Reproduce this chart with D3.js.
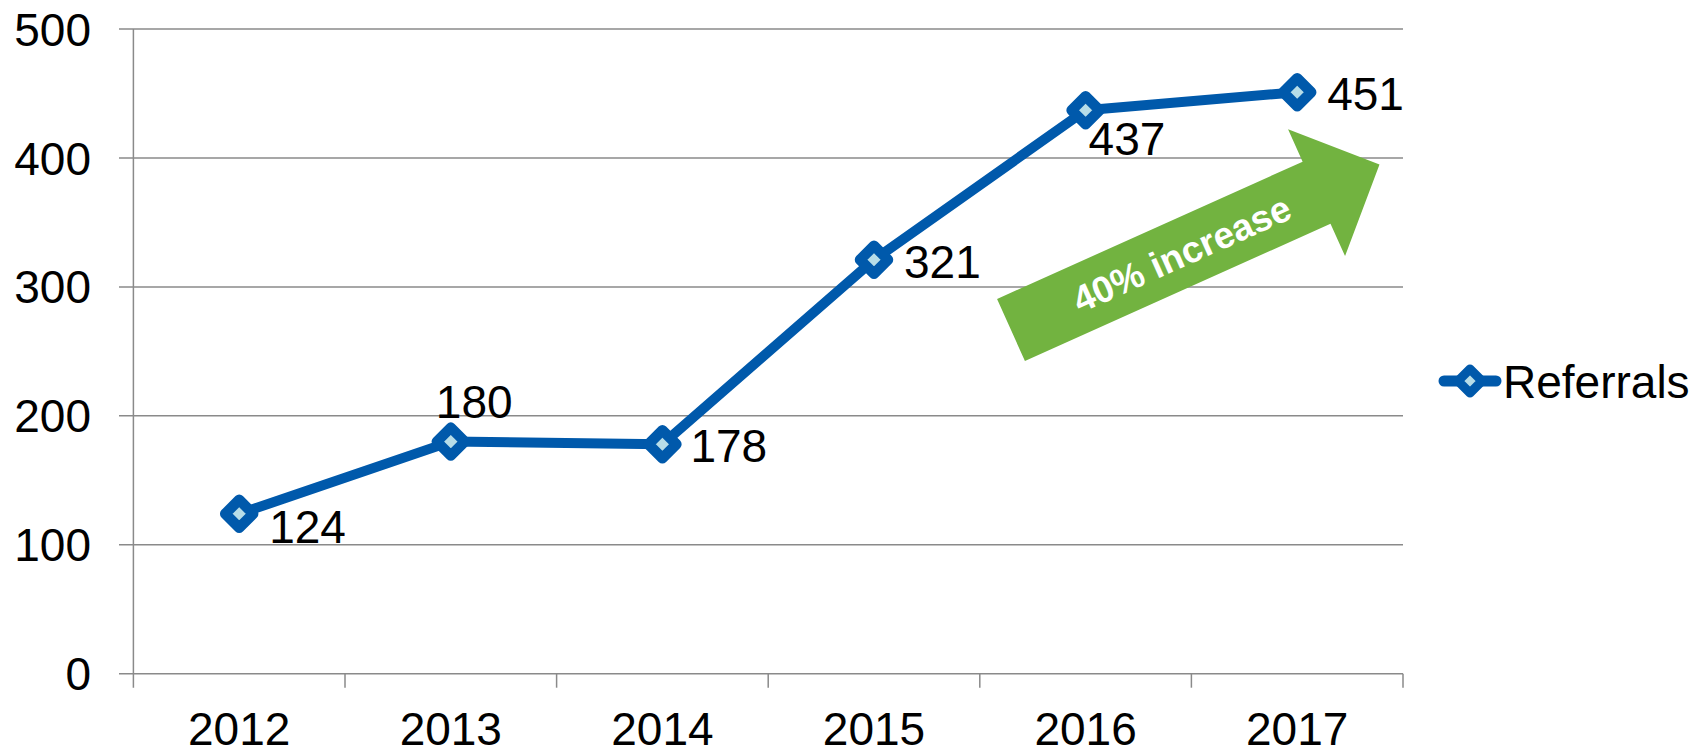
<!DOCTYPE html>
<html lang="en">
<head>
    <meta charset="UTF-8">
    <title>Referrals</title>
    <script src="https://d3js.org/d3.v7.min.js"></script>
    <style>
        body { margin: 0; background: #fff; }
        svg text { font-family: "Liberation Sans", Arial, sans-serif; }
        .grid line { stroke: #8a8a8a; stroke-width: 1.5px; }
    </style>
</head>
<body>
<svg id="chart" width="1700" height="750"></svg>
<script>
    // data
    const years = ["2012", "2013", "2014", "2015", "2016", "2017"];
    const referrals = [124, 180, 178, 321, 437, 451];
    const yTicks = [0, 100, 200, 300, 400, 500];
    const seriesName = "Referrals";
    const noteText = "40% increase";

    const blue = "#0059ab", lightFill = "#b7dde8", green = "#72b340";

    let svg = d3.select("#chart");
    let x = d3.scaleBand().domain(years).range([133.4, 1403]);
    let y = d3.scaleLinear().domain([0, 500]).range([673.7, 29]);

    // gridlines + y ticks
    let grid = svg.append("g").attr("class", "grid");
    grid.selectAll("line")
        .data(yTicks)
        .enter()
        .append("line")
        .attr("x1", 119).attr("x2", x.range()[1])
        .attr("y1", d => y(d)).attr("y2", d => y(d));

    // y axis line and category ticks
    grid.append("line")
        .attr("x1", x.range()[0]).attr("x2", x.range()[0])
        .attr("y1", y(500)).attr("y2", y(0) + 14);
    let bounds = years.map(d => x(d) + x.bandwidth());
    grid.selectAll("line.ctick")
        .data(bounds)
        .enter()
        .append("line")
        .attr("class", "ctick")
        .attr("x1", d => d).attr("x2", d => d)
        .attr("y1", y(0)).attr("y2", y(0) + 14);

    svg.append("g").selectAll("text")
        .data(yTicks)
        .enter()
        .append("text")
        .attr("x", 91)
        .attr("y", d => y(d))
        .attr("dy", "0.36em")
        .attr("text-anchor", "end")
        .style("font-size", "46px")
        .text(d => d);

    svg.append("g").selectAll("text")
        .data(years)
        .enter()
        .append("text")
        .attr("x", d => x(d) + x.bandwidth() / 2)
        .attr("y", 745)
        .attr("text-anchor", "middle")
        .style("font-size", "46px")
        .text(d => d);

    // green arrow
    let L = 404, headStart = 335, shaftHalf = 34, headHalf = 69.5;
    let arrow = svg.append("g")
        .attr("transform", "translate(1011,330) rotate(-24.2)");
    arrow.append("path")
        .attr("d", d3.line()([
            [0, -shaftHalf], [headStart, -shaftHalf], [headStart, -headHalf], [L, 0],
            [headStart, headHalf], [headStart, shaftHalf], [0, shaftHalf]
        ]) + "Z")
        .attr("fill", green);
    arrow.append("text")
        .attr("x", 187).attr("y", 0)
        .attr("dy", "0.36em")
        .attr("text-anchor", "middle")
        .attr("fill", "#fff")
        .style("font-size", "37px")
        .style("font-weight", "bold")
        .text(noteText);

    // series line
    let pts = years.map((d, i) => [x(d) + x.bandwidth() / 2, y(referrals[i])]);
    svg.append("path")
        .attr("d", d3.line()(pts))
        .attr("fill", "none")
        .attr("stroke", blue)
        .attr("stroke-width", 10)
        .attr("stroke-linejoin", "round");

    let diamond = r => `M0,${-r}L${r},0L0,${r}L${-r},0Z`;
    svg.append("g").selectAll("path")
        .data(pts)
        .enter()
        .append("path")
        .attr("transform", d => `translate(${d[0]},${d[1]})`)
        .attr("d", diamond(14))
        .attr("fill", lightFill)
        .attr("stroke", blue)
        .attr("stroke-width", 10.5)
        .attr("stroke-linejoin", "round");

    // data labels, nudged like the original
    const nudge = [[30, 13], [-15, -40], [28, 1], [30, 2], [3, 28], [30, 1.5]];
    svg.append("g").selectAll("text")
        .data(pts)
        .enter()
        .append("text")
        .attr("x", (d, i) => d[0] + nudge[i][0])
        .attr("y", (d, i) => d[1] + nudge[i][1])
        .attr("dy", "0.36em")
        .style("font-size", "46px")
        .text((d, i) => referrals[i]);

    // legend
    let lg = svg.append("g").attr("transform", "translate(1470,381)");
    lg.append("line")
        .attr("x1", -26).attr("x2", 26)
        .attr("stroke", blue).attr("stroke-width", 11)
        .attr("stroke-linecap", "round");
    lg.append("path")
        .attr("d", diamond(12))
        .attr("fill", lightFill)
        .attr("stroke", blue)
        .attr("stroke-width", 9)
        .attr("stroke-linejoin", "round");
    lg.append("text")
        .attr("x", 33).attr("y", 0)
        .attr("dy", "0.36em")
        .style("font-size", "46px")
        .text(seriesName);
</script>
</body>
</html>
